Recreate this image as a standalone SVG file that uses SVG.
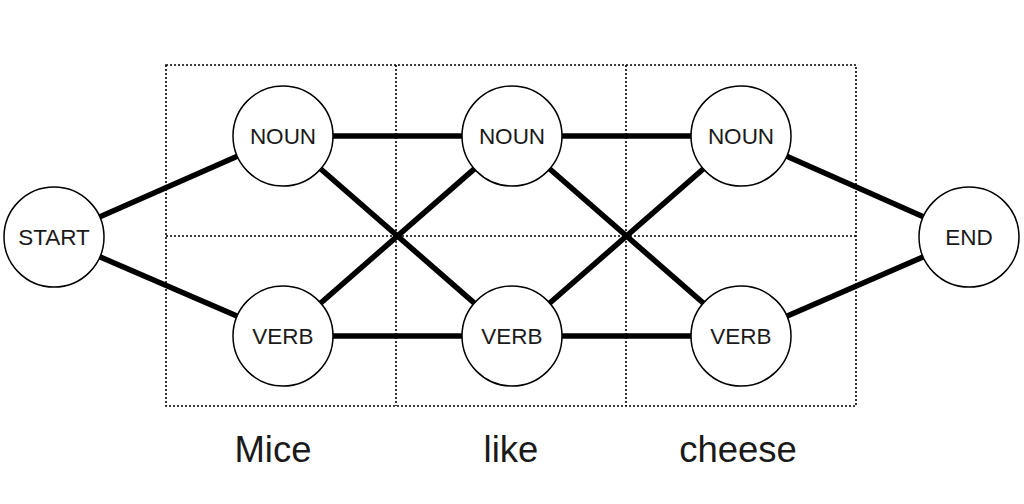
<svg xmlns="http://www.w3.org/2000/svg" width="1024" height="504" viewBox="0 0 1024 504">
<style>
.grid{fill:none;stroke:#000;stroke-width:1.6;stroke-dasharray:2 2}
.edge{stroke:#000;stroke-width:5.5;stroke-linecap:butt}
.node circle{fill:#fff;stroke:#000;stroke-width:1.5}
.node text{font-family:"Liberation Sans",Arial,sans-serif;font-size:22.5px;text-anchor:middle;fill:#1a1a1a}
.word{font-family:"Liberation Sans",Arial,sans-serif;font-size:36.5px;text-anchor:middle;fill:#1a1a1a}
</style>
<rect width="1024" height="504" fill="#fff"/>
<g id="grid">
<rect class="grid" x="166" y="65" width="690" height="341"/>
<line class="grid" x1="396" y1="65" x2="396" y2="406"/>
<line class="grid" x1="626" y1="65" x2="626" y2="406"/>
<line class="grid" x1="166" y1="236" x2="856" y2="236"/>
</g>
<g id="connectors">
<line class="edge" x1="54" y1="237" x2="283" y2="136"/>
<line class="edge" x1="54" y1="237" x2="283" y2="336"/>
<line class="edge" x1="283" y1="136" x2="512" y2="136"/>
<line class="edge" x1="283" y1="136" x2="512" y2="336"/>
<line class="edge" x1="283" y1="336" x2="512" y2="136"/>
<line class="edge" x1="283" y1="336" x2="512" y2="336"/>
<line class="edge" x1="512" y1="136" x2="741" y2="136"/>
<line class="edge" x1="512" y1="136" x2="741" y2="336"/>
<line class="edge" x1="512" y1="336" x2="741" y2="136"/>
<line class="edge" x1="512" y1="336" x2="741" y2="336"/>
<line class="edge" x1="741" y1="136" x2="969" y2="237"/>
<line class="edge" x1="741" y1="336" x2="969" y2="237"/>
</g>
<g id="start" class="node"><circle cx="54" cy="237" r="50"/><text x="54" y="245">START</text></g>
<g id="noun1" class="node"><circle cx="283" cy="136" r="50"/><text x="283" y="144">NOUN</text></g>
<g id="verb1" class="node"><circle cx="283" cy="336" r="50"/><text x="283" y="344">VERB</text></g>
<g id="noun2" class="node"><circle cx="512" cy="136" r="50"/><text x="512" y="144">NOUN</text></g>
<g id="verb2" class="node"><circle cx="512" cy="336" r="50"/><text x="512" y="344">VERB</text></g>
<g id="noun3" class="node"><circle cx="741" cy="136" r="50"/><text x="741" y="144">NOUN</text></g>
<g id="verb3" class="node"><circle cx="741" cy="336" r="50"/><text x="741" y="344">VERB</text></g>
<g id="end" class="node"><circle cx="969" cy="237" r="50"/><text x="969" y="245">END</text></g>
<g id="words">
<text class="word" x="273" y="462">Mice</text>
<text class="word" x="511" y="462">like</text>
<text class="word" x="738" y="462">cheese</text>
</g>
</svg>
